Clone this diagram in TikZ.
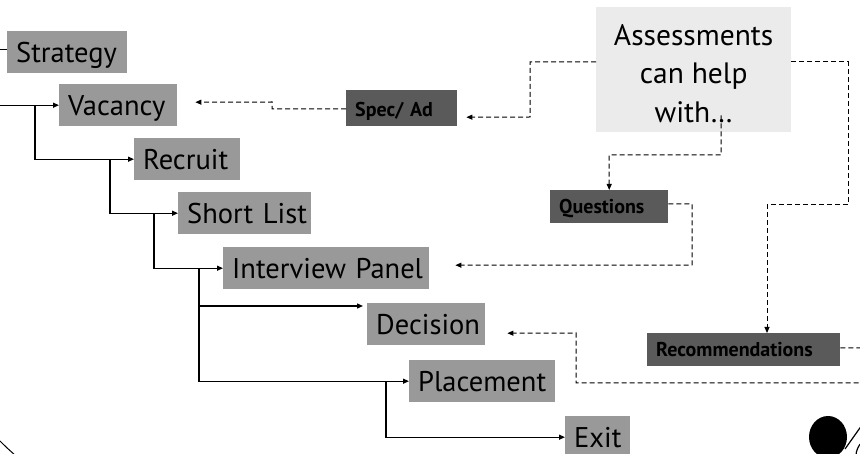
\documentclass[tikz,border=0pt]{standalone}
\usepackage{fontspec}
\setmainfont{PT Sans}
\usetikzlibrary{arrows.meta,calc}
\definecolor{boxgray}{HTML}{999999}
\definecolor{boxdark}{HTML}{5A5A5A}
\definecolor{boxlight}{HTML}{EBEBEB}
\begin{document}
\begin{tikzpicture}[x=1pt,y=-1pt,
  gbox/.style={fill=boxgray, anchor=north west, inner xsep=9pt, inner ysep=0pt, minimum height=42pt, text height=22pt, text depth=1pt, font=\fontsize{28.5}{30}\selectfont, align=left},
  dbox/.style={fill=boxdark, anchor=north west, inner xsep=9pt, inner ysep=0pt, text height=14pt, text depth=1pt, font=\bfseries\fontsize{20}{22}\selectfont, align=left},
  solidline/.style={line width=1.2pt},
  tree/.style={line width=1.2pt, -{Triangle[length=6pt,width=5pt]}},
  dconn/.style={line width=1pt, dash pattern=on 5pt off 3pt, -{Triangle[length=6pt,width=5pt]}},
]
\useasboundingbox (0,0) rectangle (860,454);

% process boxes
\node[gbox, text width=102pt] (strat) at (7,31) {Strategy};
\node[gbox, text width=100pt] (vac) at (59,84) {Vacancy};
\node[gbox, text width=88pt] (rec) at (134,138) {Recruit};
\node[gbox, text width=115pt] (sl) at (178,192) {\mbox{Short List}};
\node[gbox, text width=188pt] (ip) at (223,247) {\mbox{Interview Panel}};
\node[gbox, text width=100pt] (dec) at (367,303) {Decision};
\node[gbox, text width=128pt] (pla) at (409,360) {Placement};
\node[gbox, text width=47pt] (exit) at (565,416) {Exit};

% assessment boxes
\node[dbox, text width=93pt, minimum height=36pt, text height=16pt, text depth=0pt] (spec) at (346,90) {\mbox{Spec/ Ad}};
\node[dbox, text width=100pt, minimum height=33pt] (ques) at (550,190) {Questions};
\node[dbox, text width=175pt, minimum height=33pt] (recm) at (647,333) {Recommendations};

\node[fill=boxlight, anchor=north west, minimum width=195pt, minimum height=125pt, inner sep=0pt, align=center, font=\fontsize{29.5}{38.5}\selectfont] (ass) at (596,7) {\rule{0pt}{28pt}Assessments\\can help\\with…};

% tree connectors
\draw[solidline] (0,0 |- strat.west) ++(0,-3) -- ($(strat.west)+(0,-3)$);
\draw[tree] (0,0 |- vac.west) -- (vac.west);
\draw[tree] (35,0 |- vac.west) |- (rec.west);
\draw[tree] (110,0 |- rec.west) |- (sl.west);
\draw[tree] (154,0 |- sl.west) |- (ip.west);
\draw[tree] (199,0 |- ip.west) |- (pla.west);
\draw[tree] (199,306) -- ($(dec.north west)+(-4,3)$);
\draw[tree] (386,0 |- pla.west) |- (exit.west);

% dashed connectors
\draw[dconn] (ass.west |- 0,62) -| (530,117) -- ($(spec.east)+(9,9)$);
\draw[dconn] (spec.west |- 0,109) -- (272,109) -- (272,102) -- ($(vac.east)+(18,-3)$);
\draw[dconn] ($(ass.south)+(27.5,-17)$) -- (721,155) -| (ques.north);
\draw[dconn] (ques.east |- 0,204) -| (692,265) -- ($(ip.east)+(26,-3)$);
\draw[dconn] (ass.east |- 0,62) -| (848,205) -| (767,0 |- recm.north);
\draw[dconn] (recm.east |- 0,348) -- (880,348) -- (880,383) -- (576,383) -- (576,333) -- ($(dec.east)+(22,9)$);

% fragments at the edges
\draw[line width=1pt] (0,441) .. controls (6,447) .. (16,456);
\fill (828,437) ellipse[x radius=19pt, y radius=21pt];
\draw[line width=1.2pt] (845,449) -- (862,425);
\draw[line width=1.2pt] (875,456) circle[radius=19pt];
\end{tikzpicture}
\end{document}
